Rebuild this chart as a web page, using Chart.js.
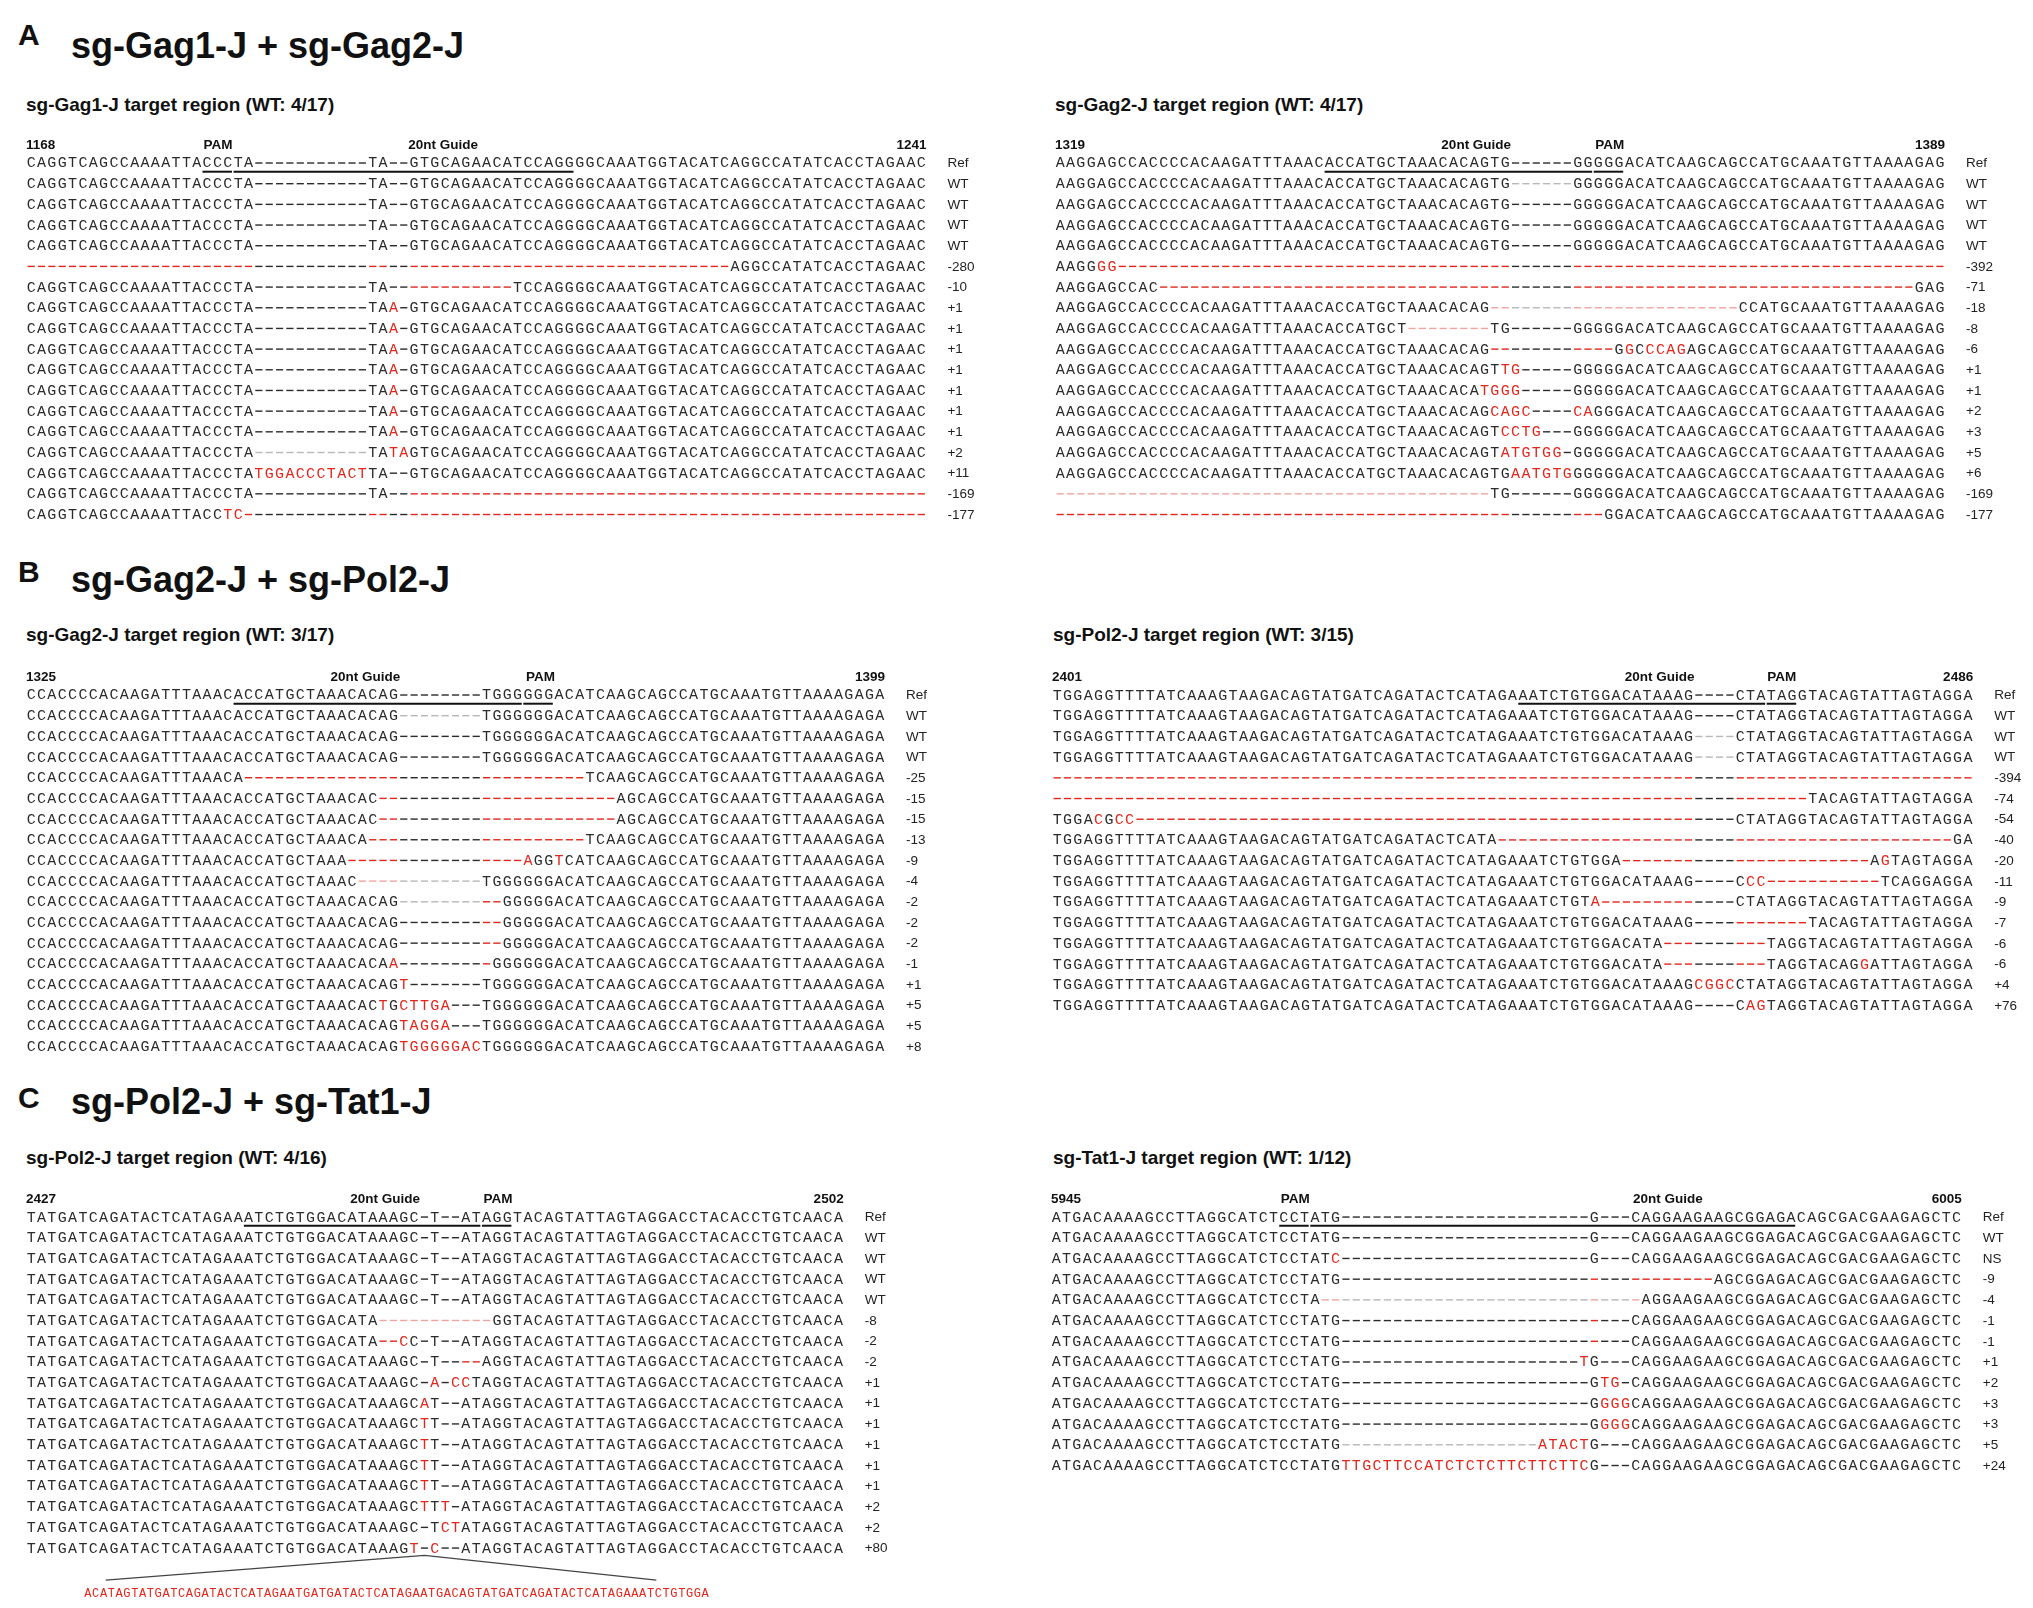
<!DOCTYPE html>
<html>
<head>
<meta charset="utf-8">
<script src="https://cdn.jsdelivr.net/npm/chart.js@4.4.0/dist/chart.umd.min.js"></script>
<style>
body { margin: 0; background: #fff; width: 2033px; height: 1608px; position: relative; overflow: hidden; font-family: "Liberation Sans", Arial, sans-serif; color: #111; }
.txt { position: absolute; font-weight: bold; line-height: 1; white-space: nowrap; }
.letter { font-size: 30px; }
.title { font-size: 36px; }
.sub { font-size: 19px; }
canvas { position: absolute; }
</style>
</head>
<body>
<div class="txt letter" style="left:18px;top:20px">A</div>
<div class="txt title" style="left:71px;top:28px">sg-Gag1-J + sg-Gag2-J</div>
<div class="txt sub" style="left:26px;top:95px">sg-Gag1-J target region (WT: 4/17)</div>
<div class="txt sub" style="left:1055px;top:95px">sg-Gag2-J target region (WT: 4/17)</div>

<div class="txt letter" style="left:18px;top:557px">B</div>
<div class="txt title" style="left:71px;top:562px">sg-Gag2-J + sg-Pol2-J</div>
<div class="txt sub" style="left:26px;top:625px">sg-Gag2-J target region (WT: 3/17)</div>
<div class="txt sub" style="left:1053px;top:625px">sg-Pol2-J target region (WT: 3/15)</div>

<div class="txt letter" style="left:18px;top:1083px">C</div>
<div class="txt title" style="left:71px;top:1084px">sg-Pol2-J + sg-Tat1-J</div>
<div class="txt sub" style="left:26px;top:1148px">sg-Pol2-J target region (WT: 4/16)</div>
<div class="txt sub" style="left:1053px;top:1148px">sg-Tat1-J target region (WT: 1/12)</div>

<script>
// Alignment rows. Upper case = base, lower case = changed base (red),
// "-" gap, "~" deleted base (red dash), "." pale grey gap, ":" pale red dash

// sg-Gag1-J
const gag1Rows = [
  "CAGGTCAGCCAAAATTACCCTA" + "-".repeat(11) + "TA--" + "GTGCAGAACATCCAGGGGCAAATGGTACATCAGGCCATATCACCTAGAAC",
  "CAGGTCAGCCAAAATTACCCTA" + "-".repeat(11) + "TA--" + "GTGCAGAACATCCAGGGGCAAATGGTACATCAGGCCATATCACCTAGAAC",
  "CAGGTCAGCCAAAATTACCCTA" + "-".repeat(11) + "TA--" + "GTGCAGAACATCCAGGGGCAAATGGTACATCAGGCCATATCACCTAGAAC",
  "CAGGTCAGCCAAAATTACCCTA" + "-".repeat(11) + "TA--" + "GTGCAGAACATCCAGGGGCAAATGGTACATCAGGCCATATCACCTAGAAC",
  "CAGGTCAGCCAAAATTACCCTA" + "-".repeat(11) + "TA--" + "GTGCAGAACATCCAGGGGCAAATGGTACATCAGGCCATATCACCTAGAAC",
  "~".repeat(22) + "-".repeat(11) + "~~--" + "~".repeat(31) + "AGGCCATATCACCTAGAAC",
  "CAGGTCAGCCAAAATTACCCTA" + "-".repeat(11) + "TA--" + "~".repeat(10) + "TCCAGGGGCAAATGGTACATCAGGCCATATCACCTAGAAC",
  "CAGGTCAGCCAAAATTACCCTA" + "-".repeat(11) + "TAa-" + "GTGCAGAACATCCAGGGGCAAATGGTACATCAGGCCATATCACCTAGAAC",
  "CAGGTCAGCCAAAATTACCCTA" + "-".repeat(11) + "TAa-" + "GTGCAGAACATCCAGGGGCAAATGGTACATCAGGCCATATCACCTAGAAC",
  "CAGGTCAGCCAAAATTACCCTA" + "-".repeat(11) + "TAa-" + "GTGCAGAACATCCAGGGGCAAATGGTACATCAGGCCATATCACCTAGAAC",
  "CAGGTCAGCCAAAATTACCCTA" + "-".repeat(11) + "TAa-" + "GTGCAGAACATCCAGGGGCAAATGGTACATCAGGCCATATCACCTAGAAC",
  "CAGGTCAGCCAAAATTACCCTA" + "-".repeat(11) + "TAa-" + "GTGCAGAACATCCAGGGGCAAATGGTACATCAGGCCATATCACCTAGAAC",
  "CAGGTCAGCCAAAATTACCCTA" + "-".repeat(11) + "TAa-" + "GTGCAGAACATCCAGGGGCAAATGGTACATCAGGCCATATCACCTAGAAC",
  "CAGGTCAGCCAAAATTACCCTA" + "-".repeat(11) + "TAa-" + "GTGCAGAACATCCAGGGGCAAATGGTACATCAGGCCATATCACCTAGAAC",
  "CAGGTCAGCCAAAATTACCCTA" + ".".repeat(11) + "TAta" + "GTGCAGAACATCCAGGGGCAAATGGTACATCAGGCCATATCACCTAGAAC",
  "CAGGTCAGCCAAAATTACCCTA" + "tggaccctact" + "TA--" + "GTGCAGAACATCCAGGGGCAAATGGTACATCAGGCCATATCACCTAGAAC",
  "CAGGTCAGCCAAAATTACCCTA" + "-".repeat(11) + "TA--" + "~".repeat(50),
  "CAGGTCAGCCAAAATTACC" + "tc~" + "-".repeat(11) + "~~--" + "~".repeat(50)
];
const gag1Labels = ["Ref", "WT", "WT", "WT", "WT", "-280", "-10", "+1", "+1", "+1", "+1", "+1", "+1", "+1", "+2", "+11", "-169", "-177"];
const gag1Ticks = ["1168", "1241"];
const gag1Pam = [17, 19];
const gag1Guide = [20, 52];

// sg-Gag2-J (panel A)
const gag2Rows = [
  "AAGGAGCCACCCCACAAGATTTAAACACCATGCTAAACACAGTG" + "------" + "GGGGGACATCAAGCAGCCATGCAAATGTTAAAAGAG",
  "AAGGAGCCACCCCACAAGATTTAAACACCATGCTAAACACAGTG" + "......" + "GGGGGACATCAAGCAGCCATGCAAATGTTAAAAGAG",
  "AAGGAGCCACCCCACAAGATTTAAACACCATGCTAAACACAGTG" + "------" + "GGGGGACATCAAGCAGCCATGCAAATGTTAAAAGAG",
  "AAGGAGCCACCCCACAAGATTTAAACACCATGCTAAACACAGTG" + "------" + "GGGGGACATCAAGCAGCCATGCAAATGTTAAAAGAG",
  "AAGGAGCCACCCCACAAGATTTAAACACCATGCTAAACACAGTG" + "------" + "GGGGGACATCAAGCAGCCATGCAAATGTTAAAAGAG",
  "AAGGgg" + "~".repeat(38) + "------" + "~".repeat(36),
  "AAGGAGCCAC" + "~".repeat(34) + "------" + "~".repeat(33) + "GAG",
  "AAGGAGCCACCCCACAAGATTTAAACACCATGCTAAACACAG" + "::" + "......" + ":".repeat(16) + "CCATGCAAATGTTAAAAGAG",
  "AAGGAGCCACCCCACAAGATTTAAACACCATGCT" + ":".repeat(8) + "TG" + "------" + "GGGGGACATCAAGCAGCCATGCAAATGTTAAAAGAG",
  "AAGGAGCCACCCCACAAGATTTAAACACCATGCTAAACACAG" + "~~" + "------" + "~~~~" + "GgCccag" + "AGCAGCCATGCAAATGTTAAAAGAG",
  "AAGGAGCCACCCCACAAGATTTAAACACCATGCTAAACACAGT" + "tg" + "-----" + "GGGGGACATCAAGCAGCCATGCAAATGTTAAAAGAG",
  "AAGGAGCCACCCCACAAGATTTAAACACCATGCTAAACACA" + "tggg" + "-----" + "GGGGGACATCAAGCAGCCATGCAAATGTTAAAAGAG",
  "AAGGAGCCACCCCACAAGATTTAAACACCATGCTAAACACAG" + "cagc" + "----" + "ca" + "GGGACATCAAGCAGCCATGCAAATGTTAAAAGAG",
  "AAGGAGCCACCCCACAAGATTTAAACACCATGCTAAACACAGT" + "cctg" + "---" + "GGGGGACATCAAGCAGCCATGCAAATGTTAAAAGAG",
  "AAGGAGCCACCCCACAAGATTTAAACACCATGCTAAACACAGT" + "atgtgg" + "-" + "GGGGGACATCAAGCAGCCATGCAAATGTTAAAAGAG",
  "AAGGAGCCACCCCACAAGATTTAAACACCATGCTAAACACAGTG" + "aatgtg" + "GGGGGACATCAAGCAGCCATGCAAATGTTAAAAGAG",
  ":".repeat(42) + "TG" + "------" + "GGGGGACATCAAGCAGCCATGCAAATGTTAAAAGAG",
  "~".repeat(44) + "------" + "~~~" + "GGACATCAAGCAGCCATGCAAATGTTAAAAGAG"
];
const gag2Labels = ["Ref", "WT", "WT", "WT", "WT", "-392", "-71", "-18", "-8", "-6", "+1", "+1", "+2", "+3", "+5", "+6", "-169", "-177"];
const gag2Ticks = ["1319", "1389"];
const gag2Pam = [52, 54];
const gag2Guide = [26, 51];

// sg-Gag2-J (panel B)
const gag2bRows = [
  "CCACCCCACAAGATTTAAACACCATGCTAAACACAG" + "--------" + "TGGGGGGACATCAAGCAGCCATGCAAATGTTAAAAGAGA",
  "CCACCCCACAAGATTTAAACACCATGCTAAACACAG" + "........" + "TGGGGGGACATCAAGCAGCCATGCAAATGTTAAAAGAGA",
  "CCACCCCACAAGATTTAAACACCATGCTAAACACAG" + "--------" + "TGGGGGGACATCAAGCAGCCATGCAAATGTTAAAAGAGA",
  "CCACCCCACAAGATTTAAACACCATGCTAAACACAG" + "--------" + "TGGGGGGACATCAAGCAGCCATGCAAATGTTAAAAGAGA",
  "CCACCCCACAAGATTTAAACA" + "~".repeat(15) + "--------" + "~".repeat(10) + "TCAAGCAGCCATGCAAATGTTAAAAGAGA",
  "CCACCCCACAAGATTTAAACACCATGCTAAACAC" + "~~" + "--------" + "~".repeat(13) + "AGCAGCCATGCAAATGTTAAAAGAGA",
  "CCACCCCACAAGATTTAAACACCATGCTAAACAC" + "~~" + "--------" + "~".repeat(13) + "AGCAGCCATGCAAATGTTAAAAGAGA",
  "CCACCCCACAAGATTTAAACACCATGCTAAACA" + "~~~" + "--------" + "~".repeat(10) + "TCAAGCAGCCATGCAAATGTTAAAAGAGA",
  "CCACCCCACAAGATTTAAACACCATGCTAAA" + "~".repeat(5) + "--------" + "~~~~" + "aGGtCATCAAGCAGCCATGCAAATGTTAAAAGAGA",
  "CCACCCCACAAGATTTAAACACCATGCTAAAC" + "::::" + "........" + "TGGGGGGACATCAAGCAGCCATGCAAATGTTAAAAGAGA",
  "CCACCCCACAAGATTTAAACACCATGCTAAACACAG" + "........" + "~~" + "GGGGGACATCAAGCAGCCATGCAAATGTTAAAAGAGA",
  "CCACCCCACAAGATTTAAACACCATGCTAAACACAG" + "--------" + "~~" + "GGGGGACATCAAGCAGCCATGCAAATGTTAAAAGAGA",
  "CCACCCCACAAGATTTAAACACCATGCTAAACACAG" + "--------" + "~~" + "GGGGGACATCAAGCAGCCATGCAAATGTTAAAAGAGA",
  "CCACCCCACAAGATTTAAACACCATGCTAAACACA" + "a" + "--------" + "~" + "GGGGGGACATCAAGCAGCCATGCAAATGTTAAAAGAGA",
  "CCACCCCACAAGATTTAAACACCATGCTAAACACAG" + "t" + "-------" + "TGGGGGGACATCAAGCAGCCATGCAAATGTTAAAAGAGA",
  "CCACCCCACAAGATTTAAACACCATGCTAAACAC" + "tGcttga" + "---" + "TGGGGGGACATCAAGCAGCCATGCAAATGTTAAAAGAGA",
  "CCACCCCACAAGATTTAAACACCATGCTAAACACAG" + "tagga" + "---" + "TGGGGGGACATCAAGCAGCCATGCAAATGTTAAAAGAGA",
  "CCACCCCACAAGATTTAAACACCATGCTAAACACAG" + "tgggggac" + "TGGGGGGACATCAAGCAGCCATGCAAATGTTAAAAGAGA"
];
const gag2bLabels = ["Ref", "WT", "WT", "WT", "-25", "-15", "-15", "-13", "-9", "-4", "-2", "-2", "-2", "-1", "+1", "+5", "+5", "+8"];
const gag2bTicks = ["1325", "1399"];
const gag2bPam = [48, 50];
const gag2bGuide = [20, 47];

// sg-Pol2-J (panel B)
const pol2Rows = [
  "TGGAGGTTTTATCAAAGTAAGACAGTATGATCAGATACTCATAGAAATCTGTGGACATAAAG" + "----" + "CTATAGGTACAGTATTAGTAGGA",
  "TGGAGGTTTTATCAAAGTAAGACAGTATGATCAGATACTCATAGAAATCTGTGGACATAAAG" + "----" + "CTATAGGTACAGTATTAGTAGGA",
  "TGGAGGTTTTATCAAAGTAAGACAGTATGATCAGATACTCATAGAAATCTGTGGACATAAAG" + "...." + "CTATAGGTACAGTATTAGTAGGA",
  "TGGAGGTTTTATCAAAGTAAGACAGTATGATCAGATACTCATAGAAATCTGTGGACATAAAG" + "...." + "CTATAGGTACAGTATTAGTAGGA",
  "~".repeat(62) + "----" + "~".repeat(23),
  "~".repeat(62) + "----" + "~".repeat(7) + "TACAGTATTAGTAGGA",
  "TGGAcGcc" + "~".repeat(54) + "----" + "CTATAGGTACAGTATTAGTAGGA",
  "TGGAGGTTTTATCAAAGTAAGACAGTATGATCAGATACTCATA" + "~".repeat(19) + "----" + "~".repeat(21) + "GA",
  "TGGAGGTTTTATCAAAGTAAGACAGTATGATCAGATACTCATAGAAATCTGTGGA" + "~".repeat(7) + "----" + "~".repeat(13) + "AgTAGTAGGA",
  "TGGAGGTTTTATCAAAGTAAGACAGTATGATCAGATACTCATAGAAATCTGTGGACATAAAG" + "----" + "Ccc" + "~".repeat(11) + "TCAGGAGGA",
  "TGGAGGTTTTATCAAAGTAAGACAGTATGATCAGATACTCATAGAAATCTGT" + "a" + "~".repeat(9) + "----" + "CTATAGGTACAGTATTAGTAGGA",
  "TGGAGGTTTTATCAAAGTAAGACAGTATGATCAGATACTCATAGAAATCTGTGGACATAAAG" + "----" + "~".repeat(7) + "TACAGTATTAGTAGGA",
  "TGGAGGTTTTATCAAAGTAAGACAGTATGATCAGATACTCATAGAAATCTGTGGACATA" + "~~~" + "----" + "~~~" + "TAGGTACAGTATTAGTAGGA",
  "TGGAGGTTTTATCAAAGTAAGACAGTATGATCAGATACTCATAGAAATCTGTGGACATA" + "~~~" + "----" + "~~~" + "TAGGTACAGgATTAGTAGGA",
  "TGGAGGTTTTATCAAAGTAAGACAGTATGATCAGATACTCATAGAAATCTGTGGACATAAAG" + "cggc" + "CTATAGGTACAGTATTAGTAGGA",
  "TGGAGGTTTTATCAAAGTAAGACAGTATGATCAGATACTCATAGAAATCTGTGGACATAAAG" + "----" + "Cag" + "TAGGTACAGTATTAGTAGGA"
];
const pol2Labels = ["Ref", "WT", "WT", "WT", "-394", "-74", "-54", "-40", "-20", "-11", "-9", "-7", "-6", "-6", "+4", "+76"];
const pol2Ticks = ["2401", "2486"];
const pol2Pam = [69, 71];
const pol2Guide = [45, 68];

// sg-Pol2-J (panel C)
const pol2cRows = [
  "TATGATCAGATACTCATAGAAATCTGTGGACATAAAGC" + "-T--" + "ATAGGTACAGTATTAGTAGGACCTACACCTGTCAACA",
  "TATGATCAGATACTCATAGAAATCTGTGGACATAAAGC" + "-T--" + "ATAGGTACAGTATTAGTAGGACCTACACCTGTCAACA",
  "TATGATCAGATACTCATAGAAATCTGTGGACATAAAGC" + "-T--" + "ATAGGTACAGTATTAGTAGGACCTACACCTGTCAACA",
  "TATGATCAGATACTCATAGAAATCTGTGGACATAAAGC" + "-T--" + "ATAGGTACAGTATTAGTAGGACCTACACCTGTCAACA",
  "TATGATCAGATACTCATAGAAATCTGTGGACATAAAGC" + "-T--" + "ATAGGTACAGTATTAGTAGGACCTACACCTGTCAACA",
  "TATGATCAGATACTCATAGAAATCTGTGGACATA" + ":".repeat(11) + "GGTACAGTATTAGTAGGACCTACACCTGTCAACA",
  "TATGATCAGATACTCATAGAAATCTGTGGACATA" + "~~cC-T--" + "ATAGGTACAGTATTAGTAGGACCTACACCTGTCAACA",
  "TATGATCAGATACTCATAGAAATCTGTGGACATAAAGC" + "-T--" + "~~" + "AGGTACAGTATTAGTAGGACCTACACCTGTCAACA",
  "TATGATCAGATACTCATAGAAATCTGTGGACATAAAGC" + "-a-" + "cc" + "TAGGTACAGTATTAGTAGGACCTACACCTGTCAACA",
  "TATGATCAGATACTCATAGAAATCTGTGGACATAAAGC" + "aT--" + "ATAGGTACAGTATTAGTAGGACCTACACCTGTCAACA",
  "TATGATCAGATACTCATAGAAATCTGTGGACATAAAGC" + "tT--" + "ATAGGTACAGTATTAGTAGGACCTACACCTGTCAACA",
  "TATGATCAGATACTCATAGAAATCTGTGGACATAAAGC" + "tT--" + "ATAGGTACAGTATTAGTAGGACCTACACCTGTCAACA",
  "TATGATCAGATACTCATAGAAATCTGTGGACATAAAGC" + "tT--" + "ATAGGTACAGTATTAGTAGGACCTACACCTGTCAACA",
  "TATGATCAGATACTCATAGAAATCTGTGGACATAAAGC" + "tT--" + "ATAGGTACAGTATTAGTAGGACCTACACCTGTCAACA",
  "TATGATCAGATACTCATAGAAATCTGTGGACATAAAGC" + "tTt-" + "ATAGGTACAGTATTAGTAGGACCTACACCTGTCAACA",
  "TATGATCAGATACTCATAGAAATCTGTGGACATAAAGC" + "-Tct" + "ATAGGTACAGTATTAGTAGGACCTACACCTGTCAACA",
  "TATGATCAGATACTCATAGAAATCTGTGGACATAAAG" + "t-c--" + "ATAGGTACAGTATTAGTAGGACCTACACCTGTCAACA"
];
const pol2cLabels = ["Ref", "WT", "WT", "WT", "WT", "-8", "-2", "-2", "+1", "+1", "+1", "+1", "+1", "+1", "+2", "+2", "+80"];
const pol2cTicks = ["2427", "2502"];
const pol2cPam = [44, 46];
const pol2cGuide = [21, 43];
const pol2cInsert = "ACATAGTATGATCAGATACTCATAGAATGATGATACTCATAGAATGACAGTATGATCAGATACTCATAGAAATCTGTGGA";
const pol2cInsertAt = 38;

// sg-Tat1-J
const tat1Rows = [
  "ATGACAAAAGCCTTAGGCATCTCCTATG" + "-".repeat(24) + "G---" + "CAGGAAGAAGCGGAGACAGCGACGAAGAGCTC",
  "ATGACAAAAGCCTTAGGCATCTCCTATG" + "-".repeat(24) + "G---" + "CAGGAAGAAGCGGAGACAGCGACGAAGAGCTC",
  "ATGACAAAAGCCTTAGGCATCTCCTAT" + "c" + "-".repeat(24) + "G---" + "CAGGAAGAAGCGGAGACAGCGACGAAGAGCTC",
  "ATGACAAAAGCCTTAGGCATCTCCTATG" + "-".repeat(24) + "~---" + "~".repeat(8) + "AGCGGAGACAGCGACGAAGAGCTC",
  "ATGACAAAAGCCTTAGGCATCTCCTA" + "::" + ".".repeat(24) + ":...:" + "AGGAAGAAGCGGAGACAGCGACGAAGAGCTC",
  "ATGACAAAAGCCTTAGGCATCTCCTATG" + "-".repeat(24) + "~---" + "CAGGAAGAAGCGGAGACAGCGACGAAGAGCTC",
  "ATGACAAAAGCCTTAGGCATCTCCTATG" + "-".repeat(24) + "~---" + "CAGGAAGAAGCGGAGACAGCGACGAAGAGCTC",
  "ATGACAAAAGCCTTAGGCATCTCCTATG" + "-".repeat(23) + "t" + "G---" + "CAGGAAGAAGCGGAGACAGCGACGAAGAGCTC",
  "ATGACAAAAGCCTTAGGCATCTCCTATG" + "-".repeat(24) + "Gtg-" + "CAGGAAGAAGCGGAGACAGCGACGAAGAGCTC",
  "ATGACAAAAGCCTTAGGCATCTCCTATG" + "-".repeat(24) + "Gggg" + "CAGGAAGAAGCGGAGACAGCGACGAAGAGCTC",
  "ATGACAAAAGCCTTAGGCATCTCCTATG" + "-".repeat(24) + "Gggg" + "CAGGAAGAAGCGGAGACAGCGACGAAGAGCTC",
  "ATGACAAAAGCCTTAGGCATCTCCTATG" + ".".repeat(19) + "atact" + "G---" + "CAGGAAGAAGCGGAGACAGCGACGAAGAGCTC",
  "ATGACAAAAGCCTTAGGCATCTCCTATG" + "ttgcttccatctctcttcttcttc" + "G---" + "CAGGAAGAAGCGGAGACAGCGACGAAGAGCTC"
];
const tat1Labels = ["Ref", "WT", "NS", "-9", "-4", "-1", "-1", "+1", "+2", "+3", "+3", "+5", "+24"];
const tat1Ticks = ["5945", "6005"];
const tat1Pam = [22, 24];
const tat1Guide = [25, 71];

// layout
const colW = 10.35, rowH = 20.7;
const INK = '#2b2b2b', RED = '#e2261c', GREY = '#b8b8b8', PINK = '#f0a4a0';

const panels = [
  { rows: gag1Rows, labels: gag1Labels, ticks: gag1Ticks, pam: gag1Pam, guide: gag1Guide, pamAt: 18.05, guideAt: 39.8, left: 26, refY: 163 },
  { rows: gag2Rows, labels: gag2Labels, ticks: gag2Ticks, pam: gag2Pam, guide: gag2Guide, pamAt: 53.1, guideAt: 40.2, left: 1055, refY: 163 },
  { rows: gag2bRows, labels: gag2bLabels, ticks: gag2bTicks, pam: gag2bPam, guide: gag2bGuide, pamAt: 49.2, guideAt: 32.3, left: 26, refY: 695 },
  { rows: pol2Rows, labels: pol2Labels, ticks: pol2Ticks, pam: pol2Pam, guide: pol2Guide, pamAt: 70.0, guideAt: 58.2, left: 1052, refY: 695 },
  { rows: pol2cRows, labels: pol2cLabels, ticks: pol2cTicks, pam: pol2cPam, guide: pol2cGuide, pamAt: 45.1, guideAt: 34.2, left: 26, refY: 1217,
    insert: pol2cInsert, insertAt: pol2cInsertAt, insSpan: [5.1, 65.5], fanEnds: [7.2, 60.4], fanRows: [16.35, 17.55], insRow: 18.2 },
  { rows: tat1Rows, labels: tat1Labels, ticks: tat1Ticks, pam: tat1Pam, guide: tat1Guide, pamAt: 23.1, guideAt: 59.1, left: 1051, refY: 1217 }
];

function dashColor(ch) {
  if (ch === '-') return INK;
  if (ch === '~') return RED;
  if (ch === '.') return GREY;
  if (ch === ':') return PINK;
  return null;
}

const seqText = {
  id: 'seqText',
  afterDatasetsDraw(chart) {
    const ctx = chart.ctx;
    const p = chart.options.plugins.seqText.panel;
    const x = chart.scales.x, y = chart.scales.y;
    ctx.save();
    ctx.textBaseline = 'middle';
    ctx.textAlign = 'center';
    chart.data.datasets.forEach((ds, i) => {
      if (!ds.chars) return;
      ctx.font = ds.font;
      chart.getDatasetMeta(i).data.forEach((el, j) => {
        ctx.fillStyle = ds.charColors[j];
        ctx.fillText(ds.chars[j], el.x, el.y + 0.5);
      });
    });
    // header: coordinates, PAM and guide labels
    const ncols = p.rows[0].length;
    const hy = y.getPixelForValue(-0.87);
    ctx.fillStyle = '#111';
    ctx.font = 'bold 13.5px "Liberation Sans", Arial, sans-serif';
    ctx.textAlign = 'left';
    ctx.fillText(p.ticks[0], x.getPixelForValue(-0.5), hy);
    ctx.textAlign = 'right';
    ctx.fillText(p.ticks[1], x.getPixelForValue(ncols - 0.5), hy);
    ctx.textAlign = 'center';
    ctx.fillText('PAM', x.getPixelForValue(p.pamAt), hy);
    ctx.fillText('20nt Guide', x.getPixelForValue(p.guideAt), hy);
    // row labels
    ctx.font = '13.5px "Liberation Sans", Arial, sans-serif';
    ctx.fillStyle = '#222';
    ctx.textAlign = 'left';
    const lx = x.getPixelForValue(ncols - 0.5) + 21;
    p.labels.forEach((t, r) => ctx.fillText(t, lx, y.getPixelForValue(r) + 0.5));
    ctx.restore();
  }
};

function makeChart(p) {
  const ncols = p.rows[0].length;
  const nrows = p.rows.length;
  const yMin = -1.5;
  const yMax = p.insert ? p.insRow + 0.6 : nrows - 0.3;
  const padL = 10;
  const W = Math.ceil(padL + ncols * colW + 70);
  const H = Math.round((yMax - yMin) * rowH);

  const letters = [], letterChars = [], letterColors = [];
  const dashes = [], dashColors = [];
  p.rows.forEach((row, r) => {
    for (let c = 0; c < row.length; c++) {
      const ch = row[c];
      const dc = dashColor(ch);
      if (dc) {
        dashes.push({ x: c, y: r });
        dashColors.push(dc);
      } else if (ch !== ' ') {
        letters.push({ x: c, y: r });
        letterChars.push(ch.toUpperCase());
        letterColors.push(ch === ch.toUpperCase() ? INK : RED);
      }
    }
  });

  const datasets = [
    { type: 'scatter', data: letters, chars: letterChars, charColors: letterColors,
      font: '15px "Liberation Mono", "DejaVu Sans Mono", monospace', pointRadius: 0 },
    { type: 'scatter', data: dashes, pointStyle: 'line', pointRadius: 3.6,
      pointBorderColor: dashColors, pointBackgroundColor: dashColors, pointBorderWidth: 1.4 },
    { type: 'line', data: [{ x: p.pam[0] - 0.45, y: 0.42 }, { x: p.pam[1] + 0.4, y: 0.42 }],
      borderColor: '#111', borderWidth: 2, pointRadius: 0 },
    { type: 'line', data: [{ x: p.guide[0] - 0.45, y: 0.42 }, { x: p.guide[1] + 0.4, y: 0.42 }],
      borderColor: '#111', borderWidth: 2, pointRadius: 0 }
  ];

  if (p.insert) {
    const n = p.insert.length;
    const step = (p.insSpan[1] - p.insSpan[0]) / n;
    const ins = [], insChars = [], insColors = [];
    for (let i = 0; i < n; i++) {
      ins.push({ x: p.insSpan[0] + (i + 0.5) * step, y: p.insRow });
      insChars.push(p.insert[i]);
      insColors.push(RED);
    }
    datasets.push({ type: 'scatter', data: ins, chars: insChars, charColors: insColors,
      font: '12px "Liberation Mono", "DejaVu Sans Mono", monospace', pointRadius: 0 });
    datasets.push({ type: 'line', data: [
        { x: p.fanEnds[0], y: p.fanRows[1] },
        { x: p.insertAt, y: p.fanRows[0] },
        { x: p.fanEnds[1], y: p.fanRows[1] }],
      borderColor: '#444', borderWidth: 1.2, pointRadius: 0, tension: 0 });
  }

  const cv = document.createElement('canvas');
  cv.width = W;
  cv.height = H;
  cv.style.left = (p.left - padL) + 'px';
  cv.style.top = (p.refY + yMin * rowH) + 'px';
  document.body.appendChild(cv);

  new Chart(cv, {
    type: 'scatter',
    data: { datasets: datasets },
    options: {
      responsive: false,
      animation: false,
      devicePixelRatio: 1,
      events: [],
      layout: { autoPadding: false, padding: { left: padL, right: W - padL - ncols * colW, top: 0, bottom: 0 } },
      scales: {
        x: { type: 'linear', min: -0.5, max: ncols - 0.5, display: false },
        y: { type: 'linear', min: yMin, max: yMax, reverse: true, display: false }
      },
      plugins: { legend: { display: false }, tooltip: { enabled: false }, seqText: { panel: p } },
      datasets: { scatter: { clip: false }, line: { clip: false } }
    },
    plugins: [seqText]
  });
}

panels.forEach(makeChart);
</script>
</body>
</html>
